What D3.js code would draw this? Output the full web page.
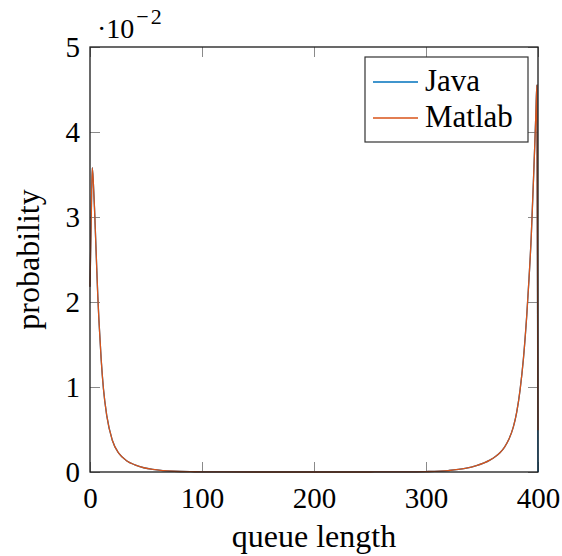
<!DOCTYPE html>
<html>
<head>
<meta charset="UTF-8">
<script src="https://d3js.org/d3.v7.min.js"></script>
<style>
    body { margin: 0; background: #fff; }
    svg text { font-family: "Liberation Serif", "Times New Roman", serif; fill: #000; }
    .tick line { stroke: #8a8a8a; }
</style>
</head>
<body>
<svg width="562" height="556"></svg>
<script>
    const queueLength = [0, 1, 2, 3, 4, 5, 6, 7, 8, 10, 12, 15, 20, 26, 33, 40, 48, 56, 65, 75, 90, 100,
        120, 150, 200, 250, 280, 300, 320, 335, 345, 357, 362, 366, 370, 374, 378, 381, 384, 387, 390,
        392, 394, 395, 396, 397, 398, 399, 400];
    const javaProb = [0.0218, 0.0290, 0.0358, 0.0340, 0.0311, 0.0276, 0.0240, 0.0206, 0.0178, 0.0132, 0.0098,
        0.0066, 0.0037, 0.00215, 0.0013, 0.00085, 0.0005, 0.0003, 0.00017, 0.00009, 0.000035, 0.000018,
        0.000005, 0.0000008, 0, 0.000003, 0.000015, 0.00005, 0.00017, 0.00042, 0.00075, 0.0014, 0.00182,
        0.00227, 0.00291, 0.00385, 0.0053, 0.00705, 0.00967, 0.01336, 0.0185, 0.0228, 0.0278, 0.0311,
        0.0345, 0.0381, 0.0418, 0.0455, 0.0];
    const matlabProb = [0.0218, 0.0290, 0.0358, 0.0340, 0.0311, 0.0276, 0.0240, 0.0206, 0.0178, 0.0132, 0.0098,
        0.0066, 0.0037, 0.00215, 0.0013, 0.00085, 0.0005, 0.0003, 0.00017, 0.00009, 0.000035, 0.000018,
        0.000005, 0.0000008, 0, 0.000003, 0.000015, 0.00005, 0.00017, 0.00042, 0.00075, 0.0014, 0.00182,
        0.00227, 0.00291, 0.00385, 0.0053, 0.00705, 0.00967, 0.01336, 0.0185, 0.0228, 0.0278, 0.0311,
        0.0345, 0.0381, 0.0418, 0.0455, 0.0049];
    const seriesNames = ["Java", "Matlab"];
    const seriesColors = ["#0072bd", "#d95319"];
    const xTicks = [0, 100, 200, 300, 400];
    const yTicks = [0, 0.01, 0.02, 0.03, 0.04, 0.05];

    const svg = d3.select("svg");
    const mLeft = 90, mRight = 538, mTop = 47, mBottom = 472;

    const x = d3.scaleLinear().domain([0, 400]).range([mLeft, mRight]);
    const y = d3.scaleLinear().domain([0, 0.05]).range([mBottom, mTop]);

    // ticks point inward on all four sides, labels only bottom/left
    svg.append("g").attr("transform", `translate(0,${mBottom})`)
        .call(d3.axisBottom(x).tickValues(xTicks).tickSize(-10).tickPadding(15));
    svg.append("g").attr("transform", `translate(0,${mTop})`)
        .call(d3.axisTop(x).tickValues(xTicks).tickSize(-10).tickFormat(""));
    svg.append("g").attr("transform", `translate(${mLeft},0)`)
        .call(d3.axisLeft(y).tickValues(yTicks).tickSize(-10).tickPadding(10).tickFormat(d => Math.round(d * 100)));
    svg.append("g").attr("transform", `translate(${mRight},0)`)
        .call(d3.axisRight(y).tickValues(yTicks).tickSize(-10).tickFormat(""));

    svg.selectAll(".domain").remove();
    svg.selectAll(".tick text").attr("font-size", 29).style("font-family", "'Liberation Serif', serif").attr("fill", "#000");

    const line = d3.line()
        .x((d, i) => x(queueLength[i]))
        .y(d => y(d))
        .curve(d3.curveMonotoneX);

    [javaProb, matlabProb].forEach((vals, k) => {
        svg.append("path")
            .datum(vals)
            .attr("d", line)
            .attr("fill", "none")
            .attr("stroke", seriesColors[k])
            .attr("stroke-width", 1.3);
    });

    // frame
    svg.append("rect")
        .attr("x", mLeft).attr("y", mTop)
        .attr("width", mRight - mLeft).attr("height", mBottom - mTop)
        .attr("fill", "none").attr("stroke", "#1a1a1a").attr("stroke-width", 1.3);

    // scale factor label
    const sc = svg.append("text").attr("x", 97).attr("y", 38).attr("font-size", 28);
    sc.append("tspan").text("·10");
    sc.append("tspan").attr("dx", 2).attr("dy", -14).attr("font-size", 22)
        .attr("letter-spacing", 2).text("−2");

    // axis titles
    svg.append("text")
        .attr("x", (mLeft + mRight) / 2).attr("y", 547)
        .attr("text-anchor", "middle").attr("font-size", 32)
        .text("queue length");
    svg.append("text")
        .attr("transform", `translate(39,${(mTop + mBottom) / 2}) rotate(-90)`)
        .attr("text-anchor", "middle").attr("font-size", 32)
        .text("probability");

    // legend
    const lg = svg.append("g");
    lg.append("rect").attr("x", 365).attr("y", 57).attr("width", 163).attr("height", 85)
        .attr("fill", "#fff").attr("stroke", "#333").attr("stroke-width", 1.2);
    seriesNames.forEach((name, i) => {
        const ly = 82 + i * 36;
        lg.append("line").attr("x1", 373).attr("x2", 418).attr("y1", ly).attr("y2", ly)
            .attr("stroke", seriesColors[i]).attr("stroke-width", 1.3);
        lg.append("text").attr("x", 425).attr("y", ly + 9).attr("font-size", 31).text(name);
    });
</script>
</body>
</html>
